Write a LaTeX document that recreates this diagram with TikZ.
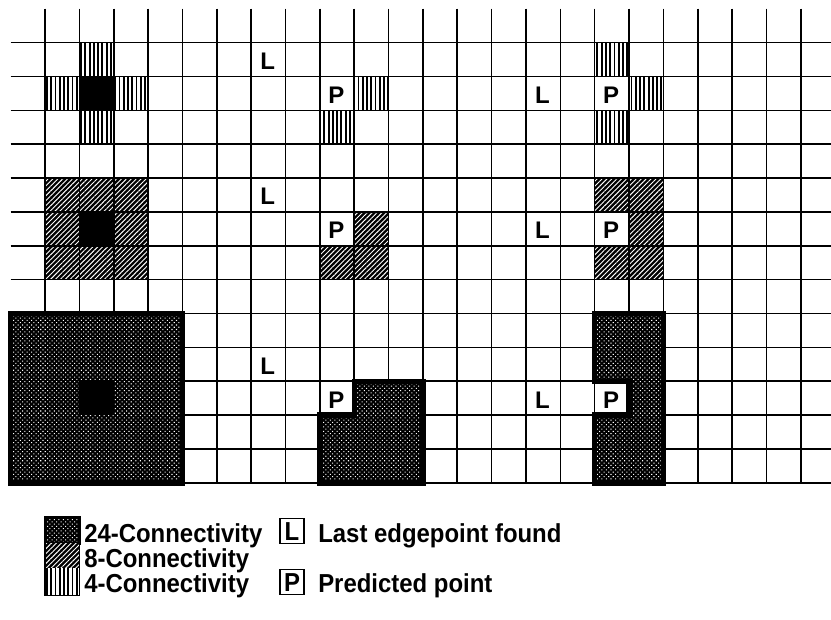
\documentclass[tikz,border=0pt]{standalone}
\usepackage{fontspec}
\setmainfont{Liberation Sans}
\newfontfamily\keyfont{Liberation Sans}[FakeStretch=0.92]
\usetikzlibrary{patterns.meta}

\tikzset{
  gridline/.style={line width=1.2pt},
  fourcell/.style={pattern={Lines[angle=90,distance=3.2pt,line width=1.4pt]}},
  eightcell/.style={preaction={fill=black},pattern={Lines[angle=45,distance=2.6pt,line width=0.7pt]},pattern color=white},
  dotblock/.style={preaction={fill=black},pattern={Dots[distance=2.4pt,radius=0.55pt,angle=45]},pattern color=white,draw=black,line width=4pt},
  seedcell/.style={fill=black},
  cellletter/.style={font=\bfseries\fontsize{18}{18}\selectfont,inner sep=0pt},
  keytext/.style={font=\keyfont\bfseries\fontsize{19.5}{19.5}\selectfont,anchor=base west,inner sep=0pt},
  keybox/.style={draw,line width=0.8pt,minimum width=18pt,minimum height=18.75pt,inner sep=0pt,font=\keyfont\bfseries\fontsize{19.5}{19.5}\selectfont}
}

\begin{document}
\begin{tikzpicture}[x=25.76pt,y=25.40pt]
\useasboundingbox (-0.312,0.257) rectangle (23.880,-18.024);
% 4-connectivity
\fill[fourcell] (2.000,-1.000) rectangle (3.000,-2.000);
\fill[fourcell] (1.000,-2.000) rectangle (2.000,-3.000);
\fill[fourcell] (3.000,-2.000) rectangle (4.000,-3.000);
\fill[fourcell] (2.000,-3.000) rectangle (3.000,-4.000);
\fill[fourcell] (10.000,-2.000) rectangle (11.000,-3.000);
\fill[fourcell] (9.000,-3.000) rectangle (10.000,-4.000);
\fill[fourcell] (17.000,-1.000) rectangle (18.000,-2.000);
\fill[fourcell] (18.000,-2.000) rectangle (19.000,-3.000);
\fill[fourcell] (17.000,-3.000) rectangle (18.000,-4.000);
% 8-connectivity
\fill[eightcell] (1.000,-5.000) rectangle (4.000,-6.000);
\fill[eightcell] (1.000,-6.000) rectangle (2.000,-7.000);
\fill[eightcell] (3.000,-6.000) rectangle (4.000,-7.000);
\fill[eightcell] (1.000,-7.000) rectangle (4.000,-8.000);
\fill[eightcell] (10.000,-6.000) rectangle (11.000,-7.000);
\fill[eightcell] (9.000,-7.000) rectangle (11.000,-8.000);
\fill[eightcell] (17.000,-5.000) rectangle (19.000,-6.000);
\fill[eightcell] (18.000,-6.000) rectangle (19.000,-7.000);
\fill[eightcell] (17.000,-7.000) rectangle (19.000,-8.000);
% grid
\draw[gridline] (0.000,-1.000) -- (23.880,-1.000);
\draw[gridline] (0.000,-2.000) -- (23.880,-2.000);
\draw[gridline] (0.000,-3.000) -- (23.880,-3.000);
\draw[gridline] (0.000,-4.000) -- (23.880,-4.000);
\draw[gridline] (0.000,-5.000) -- (23.880,-5.000);
\draw[gridline] (0.000,-6.000) -- (23.880,-6.000);
\draw[gridline] (0.000,-7.000) -- (23.880,-7.000);
\draw[gridline] (0.000,-8.000) -- (23.880,-8.000);
\draw[gridline] (0.000,-9.000) -- (23.880,-9.000);
\draw[gridline] (0.000,-10.000) -- (23.880,-10.000);
\draw[gridline] (0.000,-11.000) -- (23.880,-11.000);
\draw[gridline] (0.000,-12.000) -- (23.880,-12.000);
\draw[gridline] (0.000,-13.000) -- (23.880,-13.000);
\draw[gridline] (0.000,-14.000) -- (23.880,-14.000);
\draw[gridline] (1.000,0.000) -- (1.000,-14.000);
\draw[gridline] (2.000,0.000) -- (2.000,-14.000);
\draw[gridline] (3.000,0.000) -- (3.000,-14.000);
\draw[gridline] (4.000,0.000) -- (4.000,-14.000);
\draw[gridline] (5.000,0.000) -- (5.000,-14.000);
\draw[gridline] (6.000,0.000) -- (6.000,-14.000);
\draw[gridline] (7.000,0.000) -- (7.000,-14.000);
\draw[gridline] (8.000,0.000) -- (8.000,-14.000);
\draw[gridline] (9.000,0.000) -- (9.000,-14.000);
\draw[gridline] (10.000,0.000) -- (10.000,-14.000);
\draw[gridline] (11.000,0.000) -- (11.000,-14.000);
\draw[gridline] (12.000,0.000) -- (12.000,-14.000);
\draw[gridline] (13.000,0.000) -- (13.000,-14.000);
\draw[gridline] (14.000,0.000) -- (14.000,-14.000);
\draw[gridline] (15.000,0.000) -- (15.000,-14.000);
\draw[gridline] (16.000,0.000) -- (16.000,-14.000);
\draw[gridline] (17.000,0.000) -- (17.000,-14.000);
\draw[gridline] (18.000,0.000) -- (18.000,-14.000);
\draw[gridline] (19.000,0.000) -- (19.000,-14.000);
\draw[gridline] (20.000,0.000) -- (20.000,-14.000);
\draw[gridline] (21.000,0.000) -- (21.000,-14.000);
\draw[gridline] (22.000,0.000) -- (22.000,-14.000);
\draw[gridline] (23.000,0.000) -- (23.000,-14.000);
% 24-connectivity
\path[dotblock] (0.000,-9.000) rectangle (5.000,-14.000);
\path[dotblock] (10.000,-11.000) -- (12.000,-11.000) -- (12.000,-14.000) -- (9.000,-14.000) -- (9.000,-12.000) -- (10.000,-12.000) -- cycle;
\path[dotblock] (17.000,-9.000) -- (19.000,-9.000) -- (19.000,-14.000) -- (17.000,-14.000) -- (17.000,-12.000) -- (18.000,-12.000) -- (18.000,-11.000) -- (17.000,-11.000) -- cycle;
% centre points
\fill[seedcell] (2.000,-2.000) rectangle (3.000,-3.000);
\fill[seedcell] (2.000,-6.000) rectangle (3.000,-7.000);
\fill[seedcell] (2.000,-11.000) rectangle (3.000,-12.000);
% last and predicted points
\node[cellletter] (last1) at (7.480,-1.550) {L};
\node[cellletter] (pred1) at (9.480,-2.550) {P};
\node[cellletter] (last2) at (15.480,-2.550) {L};
\node[cellletter] (pred2) at (17.480,-2.550) {P};
\node[cellletter] (last3) at (7.480,-5.550) {L};
\node[cellletter] (pred3) at (9.480,-6.550) {P};
\node[cellletter] (last4) at (15.480,-6.550) {L};
\node[cellletter] (pred4) at (17.480,-6.550) {P};
\node[cellletter] (last5) at (7.480,-10.550) {L};
\node[cellletter] (pred5) at (9.480,-11.550) {P};
\node[cellletter] (last6) at (15.480,-11.550) {L};
\node[cellletter] (pred6) at (17.480,-11.550) {P};
% legend
\path[dotblock,line width=2pt] (1.000,-15.012) rectangle (2.000,-15.780);
\path[eightcell] (1.000,-15.780) rectangle (2.000,-16.518);
\path[fourcell] (1.000,-16.518) rectangle (2.000,-17.316);
\draw[line width=1pt] (1.000,-15.012) rectangle (2.000,-17.316);
\node[keytext] (key24) at (2.134,-15.750) {24-Connectivity};
\node[keytext] (key8) at (2.134,-16.489) {8-Connectivity};
\node[keytext] (key4) at (2.134,-17.227) {4-Connectivity};
\node[keybox] (boxL) at (8.189,-15.425) {L};
\node[keybox] (boxP) at (8.189,-16.931) {P};
\node[keytext] (keyL) at (8.946,-15.750) {Last edgepoint found};
\node[keytext] (keyP) at (8.946,-17.227) {Predicted point};
\end{tikzpicture}
\end{document}
